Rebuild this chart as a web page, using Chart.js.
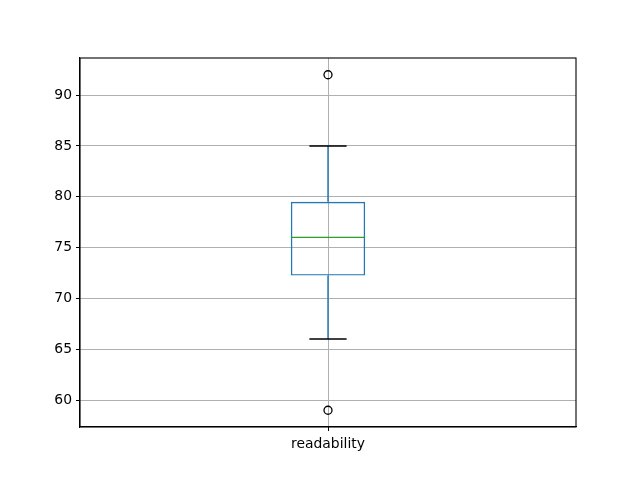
<!DOCTYPE html>
<html>
<head>
<meta charset="utf-8">
<script src="https://cdn.jsdelivr.net/npm/chart.js@4"></script>
<style>
  html, body { margin: 0; padding: 0; background: #fff; }
  #wrap { width: 640px; height: 480px; }
</style>
</head>
<body>
<div id="wrap"><canvas id="chart" width="640" height="480"></canvas></div>
<script>
const categories = ['readability'];
const q1 = [72.25];
const q3 = [79.5];
const medians = [76];
const whiskerLow = [66];
const whiskerHigh = [85];
const outliers = [[59, 92]];
const yTicks = [60, 65, 70, 75, 80, 85, 90];
const yMin = 57.35;
const yMax = 93.65;

const BLUE = '#1f77b4';
const GREEN = '#2ca02c';
const GRID = '#b0b0b0';
const FONT = { family: 'DejaVu Sans', size: 13.9 };

// whiskers, caps, medians and the top/right frame, placed with the chart's scales
const boxExtras = {
  id: 'boxExtras',
  afterDatasetsDraw(chart) {
    const ctx = chart.ctx;
    const y = chart.scales.y;
    const meta = chart.getDatasetMeta(0);
    ctx.save();
    meta.data.forEach((bar, i) => {
      const x = bar.x;
      const half = bar.width / 2;
      const capHalf = half / 2;
      const line = (x1, y1, x2, y2, color) => {
        ctx.beginPath();
        ctx.strokeStyle = color;
        ctx.lineWidth = 1.4;
        ctx.moveTo(x1, y1);
        ctx.lineTo(x2, y2);
        ctx.stroke();
      };
      line(x, y.getPixelForValue(whiskerLow[i]), x, y.getPixelForValue(q1[i]), BLUE);
      line(x, y.getPixelForValue(q3[i]), x, y.getPixelForValue(whiskerHigh[i]), BLUE);
      line(x - capHalf, y.getPixelForValue(whiskerLow[i]), x + capHalf, y.getPixelForValue(whiskerLow[i]), 'black');
      line(x - capHalf, y.getPixelForValue(whiskerHigh[i]), x + capHalf, y.getPixelForValue(whiskerHigh[i]), 'black');
      line(x - half, y.getPixelForValue(medians[i]), x + half, y.getPixelForValue(medians[i]), GREEN);
    });
    const a = chart.chartArea;
    ctx.strokeStyle = 'black';
    ctx.lineWidth = 1.1;
    ctx.strokeRect(a.left, a.top, a.right - a.left, a.bottom - a.top);
    ctx.restore();
  }
};

new Chart(document.getElementById('chart').getContext('2d'), {
  type: 'bar',
  data: {
    labels: categories,
    datasets: [
      {
        type: 'bar',
        data: categories.map((c, i) => [q1[i], q3[i]]),
        backgroundColor: 'rgba(0,0,0,0)',
        borderColor: BLUE,
        borderWidth: 1.4,
        borderSkipped: false,
        barPercentage: 0.15,
        categoryPercentage: 1
      },
      {
        type: 'line',
        showLine: false,
        data: categories.flatMap((c, i) => outliers[i].map(v => ({ x: c, y: v }))),
        pointStyle: 'circle',
        pointRadius: 4,
        pointBorderWidth: 1.3,
        pointBorderColor: 'black',
        pointBackgroundColor: 'rgba(0,0,0,0)'
      }
    ]
  },
  options: {
    responsive: false,
    animation: false,
    layout: { padding: { top: 58, right: 64, left: 0, bottom: 0 } },
    plugins: { legend: { display: false }, tooltip: { enabled: false } },
    scales: {
      x: {
        offset: true,
        grid: { offset: false, color: GRID, lineWidth: 1, tickColor: 'black', tickLength: 4 },
        border: { color: 'black', width: 1.1 },
        ticks: { color: 'black', font: FONT, padding: 5 },
        afterFit(scale) { scale.height = 53; }
      },
      y: {
        min: yMin,
        max: yMax,
        afterBuildTicks(scale) { scale.ticks = yTicks.map(v => ({ value: v })); },
        grid: { color: GRID, lineWidth: 1, tickColor: 'black', tickLength: 4 },
        border: { color: 'black', width: 1.1 },
        ticks: { color: 'black', font: FONT, padding: 4 },
        afterFit(scale) { scale.width = 80; }
      }
    }
  },
  plugins: [boxExtras]
});
</script>
</body>
</html>
